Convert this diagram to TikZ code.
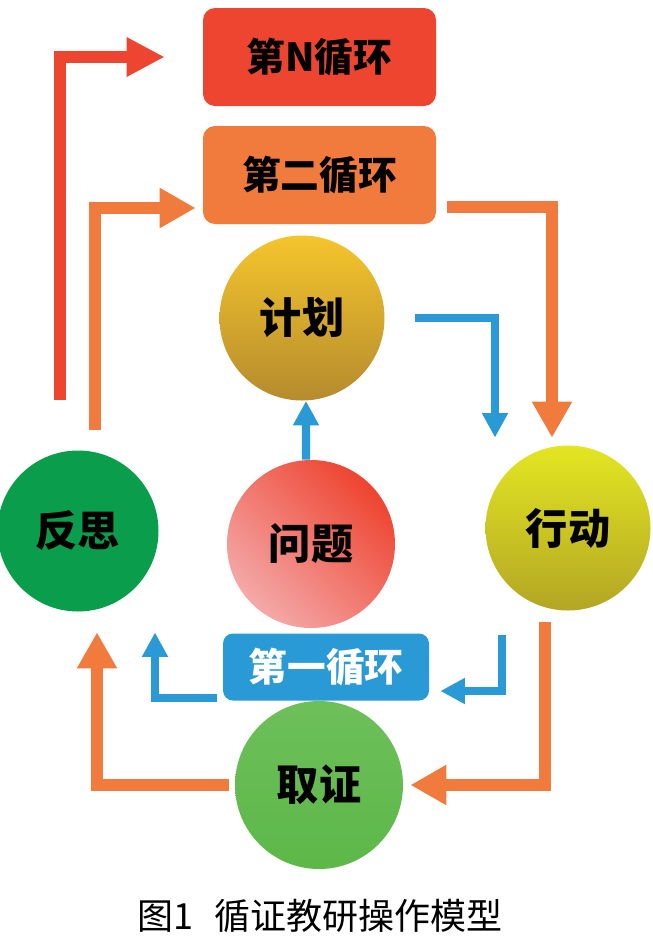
\documentclass[tikz,border=0pt]{standalone}
\usepackage{fontspec}
\setmainfont{Noto Sans CJK SC}
\usetikzlibrary{arrows.meta}

\definecolor{cycN}{HTML}{EE4530}
\definecolor{cycTwo}{HTML}{F07B3C}
\definecolor{cycOne}{HTML}{2A9AD6}
\definecolor{planTop}{HTML}{F5C52C}
\definecolor{planBot}{HTML}{B58B2E}
\definecolor{probRed}{HTML}{EE4430}
\definecolor{probPink}{HTML}{F4A9A9}
\definecolor{actTop}{HTML}{E3E622}
\definecolor{actBot}{HTML}{B3A624}
\definecolor{reflGreen}{HTML}{0A9E4C}
\definecolor{evidGreen}{HTML}{5DB848}

\begin{document}
\begin{tikzpicture}[
    cyclebox/.style={rectangle, rounded corners=0.24cm, minimum width=4.66cm, minimum height=1.96cm, text centered, font=\bfseries\fontsize{22}{26}\selectfont},
    stage/.style={circle, minimum size=3.3cm, inner sep=0pt, font=\bfseries\fontsize{24}{28}\selectfont},
    redarrow/.style={line width=6.8pt, draw=cycN, line join=miter, -{Triangle[length=21.6pt,width=21pt]}},
    orangearrow/.style={line width=6.5pt, draw=cycTwo, line join=miter, -{Triangle[length=20.5pt,width=21.5pt]}},
    bluearrow/.style={line width=4.6pt, draw=cycOne, line join=miter, -{Triangle[length=14pt,width=14pt]}}
]
\useasboundingbox (0,0) rectangle (13.06,-19.02);

% Loops
\node[cyclebox, fill=cycN] (loopN) at (6.39,-1.14) {第N循环};
\node[cyclebox, fill=cycTwo] (loopTwo) at (6.39,-3.5) {第二循环};
\node[cyclebox, fill=cycOne, minimum width=4.12cm, minimum height=1.34cm, rounded corners=0.2cm, text=white] (loopOne) at (6.52,-13.34) {第一循环};

% Stages
\node[stage, top color=planTop, bottom color=planBot] (plan) at (6.04,-6.36) {计划};
\node[stage, minimum size=3.36cm, top color=probRed, middle color=probRed, bottom color=probPink, shading angle=-45] (problem) at (6.22,-10.88) {问题};
\node[stage, minimum size=3.22cm, fill=reflGreen] (reflect) at (1.56,-10.62) {反思};
\node[stage, top color=actTop, middle color=actTop, bottom color=actBot] (action) at (11.36,-10.56) {行动};
\node[stage, minimum size=3.36cm, top color=evidGreen!90!white, bottom color=evidGreen] (evidence) at (6.38,-15.7) {取证};

% Free ends
\coordinate (redStart) at (1.2,-8.0);
\coordinate (orangeStart) at (1.9,-8.6);
\coordinate (blueStart) at (10.04,-12.7);

% Arrows
\draw[redarrow] (redStart) |- ([xshift=-0.76cm]loopN.west);
\draw[orangearrow] (orangeStart) |- ([xshift=-0.14cm,yshift=-0.66cm]loopTwo.west);
\draw[orangearrow] ([xshift=0.22cm,yshift=-0.64cm]loopTwo.east) -| ([xshift=-0.32cm,yshift=0.15cm]action.north);
\draw[bluearrow] ([xshift=0.61cm]plan.east) -| ([xshift=-1.46cm,yshift=0.15cm]action.north);
\draw[bluearrow] ([xshift=-0.1cm]problem.north) -- ([xshift=0.08cm]plan.south);
\draw[orangearrow] ([xshift=-0.46cm,yshift=-0.23cm]action.south) |- ([xshift=0.14cm]evidence.east);
\draw[orangearrow] ([xshift=-0.12cm]evidence.west) -| ([xshift=0.38cm,yshift=-0.41cm]reflect.south);
\draw[bluearrow] (blueStart) |- ([xshift=0.22cm,yshift=-0.48cm]loopOne.east);
\draw[bluearrow] ([xshift=-0.12cm,yshift=-0.62cm]loopOne.west) -| ([xshift=1.54cm,yshift=-0.41cm]reflect.south);

\node[font=\fontsize{20.5}{24}\selectfont] (caption) at (6.4,-18.32) {图1\hspace{0.6em}循证教研操作模型};

\end{tikzpicture}
\end{document}
